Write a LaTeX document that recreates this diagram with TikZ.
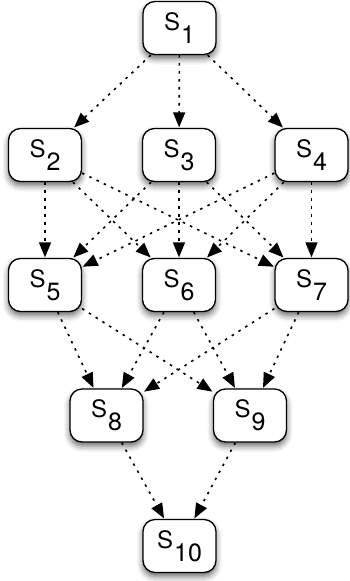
\documentclass[tikz,border=0pt]{standalone}
\usepackage{fontspec}
\setmainfont{TeX Gyre Heros}
\usetikzlibrary{arrows.meta,shadows.blur}
% state label: a capital S with a lowered index
\newcommand\stlabel[1]{\fontsize{24}{24}\selectfont S\kern1pt\raisebox{-13pt}{\fontsize{25}{25}\selectfont #1}}
\tikzset{
  state/.style={draw, line width=1.3pt, rounded corners=12pt, fill=white,
    minimum width=73pt, minimum height=53pt, inner sep=0pt,
    blur shadow={shadow xshift=0pt, shadow yshift=-4pt,
      shadow blur radius=6pt, shadow opacity=60}},
  flow/.style={-{Triangle[length=15pt,width=12pt]}, line width=1.6pt,
    dash pattern=on 2.5pt off 5.5pt, shorten >=0.5pt}
}
\begin{document}
\begin{tikzpicture}[x=1pt,y=-1pt]
\useasboundingbox (0,0) rectangle (350,581);
% states
\node[state] (s1)  at (179.5,28)  {\stlabel{1}};
\node[state] (s2)  at (45,155)    {\stlabel{2}};
\node[state] (s3)  at (179,155)   {\stlabel{3}};
\node[state] (s4)  at (311.5,155) {\stlabel{4}};
\node[state] (s5)  at (45,285)    {\stlabel{5}};
\node[state] (s6)  at (179,285)   {\stlabel{6}};
\node[state] (s7)  at (311.5,285) {\stlabel{7}};
\node[state] (s8)  at (106.5,415.5) {\stlabel{8}};
\node[state] (s9)  at (250,415.5) {\stlabel{9}};
\node[state] (s10) at (179.5,546) {\stlabel{10}};
% transitions
\foreach \t in {s2,s3,s4} \draw[flow] (s1) -- (\t);
\foreach \f in {s2,s3,s4} \foreach \t in {s5,s6,s7} \draw[flow] (\f) -- (\t);
\foreach \f in {s5,s6,s7} \foreach \t in {s8,s9} \draw[flow] (\f) -- (\t);
\foreach \f in {s8,s9} \draw[flow] (\f) -- (s10);
\end{tikzpicture}
\end{document}
